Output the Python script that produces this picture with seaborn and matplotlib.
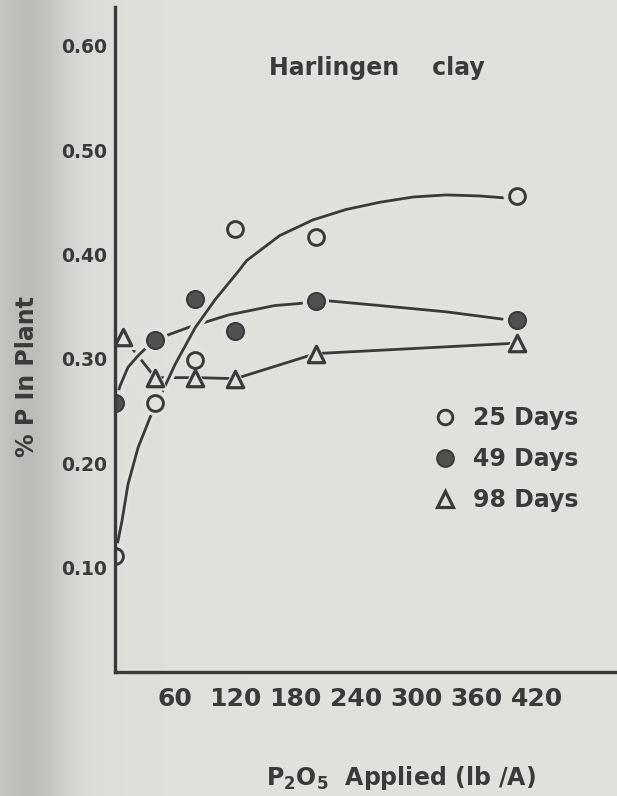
import numpy as np
import pandas as pd
import matplotlib
matplotlib.use("Agg")
import matplotlib.pyplot as plt
import matplotlib.patheffects as pe
from matplotlib.lines import Line2D
import seaborn as sns

# ---------------- data ----------------
rates = [0, 40, 80, 120, 200, 400]            # P2O5 applied (lb/A)
p_25 = [0.111, 0.258, 0.299, 0.424, 0.417, 0.456]
p_49 = [0.258, 0.318, 0.357, 0.327, 0.355, 0.337]
rates_98 = [8, 40, 80, 120, 200, 400]
p_98 = [0.321, 0.282, 0.282, 0.281, 0.305, 0.315]

# hand-drawn trend curves
curve25_x = [0, 7, 13, 23, 35, 47, 60, 80, 100, 123, 131, 164, 197, 230, 264, 297, 330, 363, 390]
curve25_y = [0.111, 0.145, 0.180, 0.215, 0.244, 0.268, 0.295, 0.330, 0.357, 0.384, 0.394,
             0.418, 0.433, 0.443, 0.450, 0.455, 0.457, 0.456, 0.454]
curve49_x = [0, 5, 13, 23, 39, 73, 113, 159, 184, 197, 207, 264, 330, 386]
curve49_y = [0.258, 0.274, 0.292, 0.303, 0.318, 0.330, 0.342, 0.351, 0.353, 0.355, 0.356,
             0.351, 0.345, 0.338]

series_labels = ["25 Days", "49 Days", "98 Days"]
x_ticks = [60, 120, 180, 240, 300, 360, 420]
y_ticks = [0.10, 0.20, 0.30, 0.40, 0.50, 0.60]
title_text = "Harlingen    clay"
x_label = r"P$_2$O$_5$  Applied (lb /A)"
y_label = "% P In Plant"

# ---------------- style ----------------
sns.set_theme(style="white")
plt.rcParams['font.family'] = ['DejaVu Sans']
plt.rcParams['font.weight'] = 'bold'
plt.rcParams['mathtext.default'] = 'regular'

BG = "#e1e1dd"
INK = "#3a3a3a"
FILL = "#505050"

W, H = 617, 796
fig = plt.figure(figsize=(W / 100, H / 100), dpi=100, facecolor=BG)

# scanned-paper shading at the left edge
bgax = fig.add_axes([0, 0, 1, 1], zorder=-10)
xs = np.arange(W)
base = np.array([225, 225, 221]) / 255.0
shade = 0.12 * np.exp(-((xs - 28) / 38.0) ** 2) + 0.035 * np.exp(-xs / 110.0)
img = np.clip(base[None, None, :] - shade[None, :, None], 0, 1)
bgax.imshow(img, aspect='auto', extent=[0, 1, 0, 1])
bgax.axis('off')

ax = fig.add_axes([115 / W, 124 / H, (W - 115) / W, 665 / H])
ax.set_facecolor('none')

halo = [pe.Stroke(linewidth=7, foreground=BG), pe.Normal()]

# 98 days: straight segments between points
sns.lineplot(x=rates_98, y=p_98, ax=ax, color=INK, lw=2.0, sort=False,
             estimator=None, zorder=2)
# 49 days curve
sns.lineplot(x=curve49_x, y=curve49_y, ax=ax, color=INK, lw=2.0, sort=False,
             estimator=None, zorder=3, path_effects=halo)
# 25 days curve
sns.lineplot(x=curve25_x, y=curve25_y, ax=ax, color=INK, lw=2.0, sort=False,
             estimator=None, zorder=4, path_effects=halo)

# marker halos (gaps in lines around markers)
for xx, yy, m in [(rates, p_25, 'o'), (rates, p_49, 'o'), (rates_98, p_98, '^')]:
    sns.scatterplot(x=xx, y=yy, ax=ax, marker=m, s=360, color=BG,
                    edgecolor='none', linewidth=0, zorder=5)

sns.scatterplot(x=rates, y=p_25, ax=ax, marker='o', s=130, facecolor=BG,
                edgecolor=INK, linewidth=2.1, zorder=6)
sns.scatterplot(x=rates, y=p_49, ax=ax, marker='o', s=150, facecolor=FILL,
                edgecolor=INK, linewidth=1.5, zorder=6)
sns.scatterplot(x=rates_98, y=p_98, ax=ax, marker='^', s=140, facecolor=BG,
                edgecolor=INK, linewidth=2.3, zorder=6)

# ---------------- axes ----------------
ax.set_xlim(0, 500)
ax.set_ylim(0, 0.637)
ax.set_xticks(x_ticks)
ax.set_xticklabels([str(v) for v in x_ticks])
ax.set_yticks(y_ticks)
ax.set_yticklabels([f"{v:.2f}" for v in y_ticks])

for s in ['top', 'right']:
    ax.spines[s].set_visible(False)
for s in ['left', 'bottom']:
    ax.spines[s].set_color(INK)
    ax.spines[s].set_linewidth(2.4)
    ax.spines[s].set_zorder(10)

ax.tick_params(axis='x', direction='in', length=7, width=1.6, colors=INK,
               labelsize=18, pad=11)
ax.tick_params(axis='y', direction='out', length=4.5, width=1.5, colors=INK,
               labelsize=13.5, pad=1)
for t in ax.get_xticklabels() + ax.get_yticklabels():
    t.set_fontweight('bold')
    t.set_color(INK)

ax.set_xlabel(x_label, fontsize=17, fontweight='bold', color=INK)
ax.xaxis.label.set_va('baseline')
ax.xaxis.set_label_coords((400.5 - 115) / 502, (672 - 785) / 665)

ax.set_ylabel(y_label, fontsize=17, fontweight='bold', color=INK)
ax.yaxis.label.set_va('center')
ax.yaxis.set_label_coords((27 - 115) / 502, (672 - 377) / 665)

fig.text(377 / W, 1 - 75 / H, title_text, ha='center', va='baseline',
         fontsize=17, fontweight='bold', color=INK)

handles = [
    Line2D([], [], marker='o', ls='none', markersize=10.5, markerfacecolor=BG,
           markeredgecolor=INK, markeredgewidth=2.1),
    Line2D([], [], marker='o', ls='none', markersize=12, markerfacecolor=FILL,
           markeredgecolor=INK, markeredgewidth=1.5),
    Line2D([], [], marker='^', ls='none', markersize=11.5, markerfacecolor=BG,
           markeredgecolor=INK, markeredgewidth=2.3),
]
leg = ax.legend(handles, series_labels, loc='upper left',
                bbox_to_anchor=(433 / W, 1 - 406 / H), bbox_transform=fig.transFigure,
                frameon=False, borderpad=0, borderaxespad=0, handlelength=1.0,
                handletextpad=0.69, labelspacing=0.72,
                prop={'size': 17, 'weight': 'bold'})
for t in leg.get_texts():
    t.set_color(INK)

fig.savefig("out.png", dpi=100, facecolor=BG)
